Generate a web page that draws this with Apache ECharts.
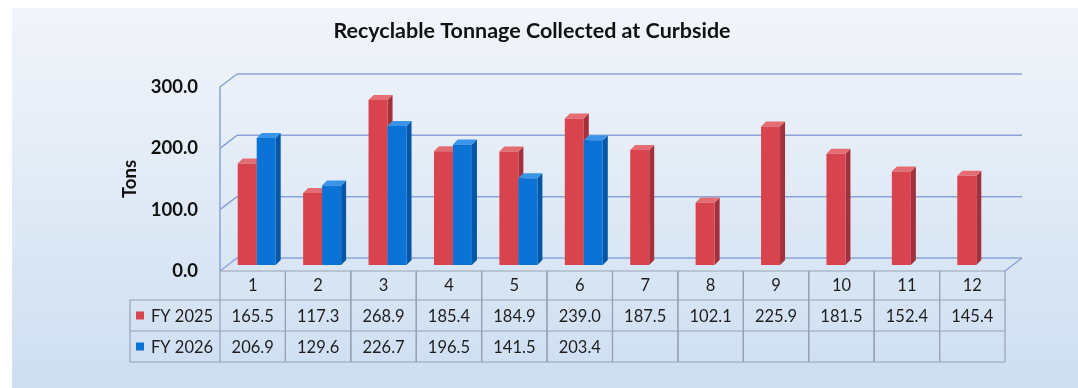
<!DOCTYPE html>
<html>
<head>
<meta charset="utf-8">
<script src="https://cdn.jsdelivr.net/npm/echarts@6/dist/echarts.min.js"></script>
<style>
  html, body { margin: 0; padding: 0; background: #ffffff; }
  #chart { width: 1078px; height: 388px; }
</style>
</head>
<body>
<div id="chart"></div>
<script>
// Monthly curbside recycling tonnage, two fiscal years
const categories = ['1', '2', '3', '4', '5', '6', '7', '8', '9', '10', '11', '12'];
const seriesNames = ['FY 2025', 'FY 2026'];
const fy2025 = [165.5, 117.3, 268.9, 185.4, 184.9, 239.0, 187.5, 102.1, 225.9, 181.5, 152.4, 145.4];
const fy2026 = [206.9, 129.6, 226.7, 196.5, 141.5, 203.4, null, null, null, null, null, null];
const yTicks = [0, 100, 200, 300];

const FONT = 'Lato, "Open Sans", sans-serif';
const LINE = '#8aa4d6';
const TABLE_LINE = '#98a1b4';
const DEPTH_X = 17, DEPTH_Y = -13;       // back wall offset
const BAR_SHIFT_X = 4, BAR_SHIFT_Y = -6; // bar placement inside the floor
const BAR_W = 19, BAR_DX = 5, BAR_DY = -5;
const TABLE_FONT = 16.5;

const palette = [
  { face: '#d8444d', side: '#a3303a', top: '#e46c73' },
  { face: '#0b73d6', side: '#0656a6', top: '#3a95ea' }
];

const chart = echarts.init(document.getElementById('chart'), null, { renderer: 'canvas' });

function bar3d(seriesIdx) {
  return function (params, api) {
    const i = api.value(0);
    const v = api.value(1);
    const base = api.coord([i, 0]);
    const topPt = api.coord([i, v]);
    const left = base[0] + BAR_SHIFT_X + (seriesIdx === 0 ? -BAR_W : 0);
    const right = left + BAR_W;
    const yb = base[1] + BAR_SHIFT_Y;
    const yt = topPt[1] + BAR_SHIFT_Y;
    const c = palette[seriesIdx];
    return {
      type: 'group',
      children: [
        { type: 'polygon', shape: { points: [[right, yb], [right + BAR_DX, yb + BAR_DY], [right + BAR_DX, yt + BAR_DY], [right, yt]] }, style: { fill: c.side } },
        { type: 'polygon', shape: { points: [[left, yt], [right, yt], [right + BAR_DX, yt + BAR_DY], [left + BAR_DX, yt + BAR_DY]] }, style: { fill: c.top } },
        { type: 'rect', shape: { x: left, y: yt, width: BAR_W, height: yb - yt }, style: { fill: c.face } }
      ]
    };
  };
}

function wallItem(params, api) {
  const bw = api.size([1, 0])[0];
  const children = [];
  const xL = api.coord([0, 0])[0] - bw / 2;
  const xR = api.coord([categories.length - 1, 0])[0] + bw / 2;
  yTicks.forEach(function (t) {
    const y = api.coord([0, t])[1];
    children.push({ type: 'line', shape: { x1: xL, y1: y, x2: xL + DEPTH_X, y2: y + DEPTH_Y }, style: { stroke: LINE, lineWidth: 1.5 } });
    children.push({ type: 'line', shape: { x1: xL + DEPTH_X, y1: y + DEPTH_Y, x2: xR + DEPTH_X, y2: y + DEPTH_Y }, style: { stroke: LINE, lineWidth: 1.5 } });
  });
  const y0 = api.coord([0, 0])[1];
  children.push({ type: 'line', shape: { x1: xR, y1: y0, x2: xR + DEPTH_X, y2: y0 + DEPTH_Y }, style: { stroke: LINE, lineWidth: 1.5 } });
  return { type: 'group', children: children };
}

function cellText(text, x, y) {
  return { type: 'text', style: { text: text, x: x, y: y, align: 'center', verticalAlign: 'middle', fontSize: TABLE_FONT, fontFamily: FONT, fill: '#1e1e1e' } };
}

function tableItem(params, api) {
  const i = api.value(0);
  const c = api.coord([i, 0]);
  const bw = api.size([1, 0])[0];
  const x0 = c[0] - bw / 2, x1 = c[0] + bw / 2;
  const rows = [c[1], c[1] + 29, c[1] + 60, c[1] + 91];
  const ls = { stroke: TABLE_LINE, lineWidth: 1.2 };
  const children = [];
  rows.forEach(function (y) {
    children.push({ type: 'line', shape: { x1: x0, y1: y, x2: x1, y2: y }, style: ls });
  });
  children.push({ type: 'line', shape: { x1: x0, y1: rows[0], x2: x0, y2: rows[3] }, style: ls });
  children.push({ type: 'line', shape: { x1: x1, y1: rows[0], x2: x1, y2: rows[3] }, style: ls });
  const vals = [fy2025[params.dataIndex], fy2026[params.dataIndex]];
  vals.forEach(function (v, k) {
    if (v !== null && v !== undefined) {
      children.push(cellText(v.toFixed(1), c[0], (rows[k + 1] + rows[k + 2]) / 2 + 1));
    }
  });
  if (params.dataIndex === 0) {
    const lx = x0 - 90;
    children.push({ type: 'line', shape: { x1: lx, y1: rows[1], x2: x0, y2: rows[1] }, style: ls });
    children.push({ type: 'line', shape: { x1: lx, y1: rows[2], x2: x0, y2: rows[2] }, style: ls });
    children.push({ type: 'line', shape: { x1: lx, y1: rows[3], x2: x0, y2: rows[3] }, style: ls });
    children.push({ type: 'line', shape: { x1: lx, y1: rows[1], x2: lx, y2: rows[3] }, style: ls });
    seriesNames.forEach(function (name, k) {
      const ym = (rows[k + 1] + rows[k + 2]) / 2;
      children.push({ type: 'rect', shape: { x: lx + 6, y: ym - 4, width: 8, height: 8 }, style: { fill: palette[k].face } });
      children.push({ type: 'text', style: { text: name, x: lx + 21, y: ym + 1, align: 'left', verticalAlign: 'middle', fontSize: TABLE_FONT, fontFamily: FONT, fill: '#1e1e1e' } });
    });
  }
  return { type: 'group', children: children };
}

const option = {
  backgroundColor: '#ffffff',
  animation: false,
  graphic: [{
    type: 'rect', z: -10, silent: true,
    shape: { x: 12, y: 8, width: 1066, height: 380 },
    style: {
      fill: new echarts.graphic.LinearGradient(0, 0, 0, 1, [
        { offset: 0, color: '#f2f5fa' },
        { offset: 0.45, color: '#e2ebf6' },
        { offset: 1, color: '#cddef2' }
      ])
    }
  }],
  title: {
    text: 'Recyclable Tonnage Collected at Curbside',
    left: 527, top: 15, textAlign: 'center',
    textStyle: { fontFamily: FONT, fontSize: 21.5, fontWeight: 'bold', color: '#111111' }
  },
  grid: { left: 220, right: 73, top: 87, bottom: 117, containLabel: false },
  xAxis: {
    type: 'category',
    data: categories,
    axisLine: { show: false },
    axisTick: { show: false },
    splitLine: { show: false },
    axisLabel: { margin: 6, fontSize: TABLE_FONT, fontFamily: FONT, color: '#1e1e1e' }
  },
  yAxis: {
    type: 'value',
    min: 0, max: 300, interval: 100,
    name: 'Tons', nameLocation: 'middle', nameRotate: 90, nameGap: 80,
    nameTextStyle: { fontFamily: FONT, fontSize: 18.5, fontWeight: 'bold', color: '#111111' },
    axisLine: { show: true, lineStyle: { color: LINE, width: 1.5 } },
    axisTick: { show: false },
    splitLine: { show: false },
    axisLabel: {
      margin: 22, fontSize: 18.5, fontWeight: 'bold', fontFamily: FONT, color: '#111111',
      formatter: function (v) { return v.toFixed(1); }
    }
  },
  series: [
    { type: 'custom', name: 'wall', renderItem: wallItem, data: [[0]], z: 1, silent: true },
    { type: 'custom', name: seriesNames[0], renderItem: bar3d(0), data: fy2025.map(function (v, i) { return [i, v]; }), z: 2 },
    { type: 'custom', name: seriesNames[1], renderItem: bar3d(1), data: fy2026.map(function (v, i) { return [i, v]; }).filter(function (d) { return d[1] !== null; }), z: 3 },
    { type: 'custom', name: 'table', renderItem: tableItem, data: categories.map(function (c, i) { return [i]; }), z: 4, silent: true }
  ]
};

chart.setOption(option);
</script>
</body>
</html>
